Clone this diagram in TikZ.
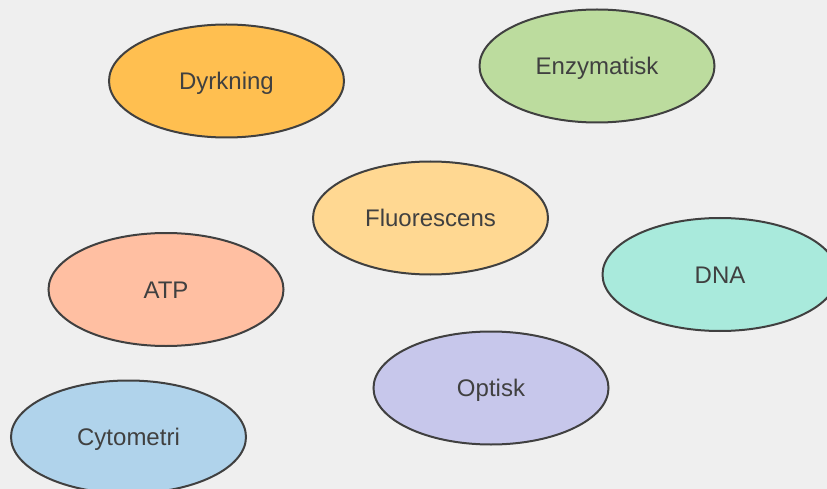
\documentclass[tikz,border=0pt]{standalone}
\usepackage{fontspec}
\setmainfont{Liberation Sans}
\usetikzlibrary{shapes.geometric}
\definecolor{bg}{HTML}{EFEFEF}
\definecolor{ink}{HTML}{404040}
\definecolor{cDyr}{HTML}{FFBF50}
\definecolor{cEnz}{HTML}{BCDC9E}
\definecolor{cFlu}{HTML}{FFD892}
\definecolor{cAtp}{HTML}{FFBFA2}
\definecolor{cDna}{HTML}{A9EADC}
\definecolor{cOpt}{HTML}{C7C7EB}
\definecolor{cCyt}{HTML}{B0D3EB}
\tikzset{
  blob/.style={ellipse, draw=ink, line width=2pt, minimum width=235pt, minimum height=113pt,
    inner sep=0pt, text=ink, font=\fontsize{24}{28}\selectfont,
    text height=17pt, text depth=0pt}
}
\begin{document}
\begin{tikzpicture}[x=1pt,y=-1pt]
\fill[bg] (0,0) rectangle (827,489);
\useasboundingbox (0,0) rectangle (827,489);
\begin{scope}
\clip (0,0) rectangle (827,489);
\node[blob, fill=cDyr] (dyr) at (226.5,81) {Dyrkning};
\node[blob, fill=cEnz] (enz) at (597,66) {Enzymatisk};
\node[blob, fill=cFlu] (flu) at (430.5,218) {Fluorescens};
\node[blob, fill=cAtp] (atp) at (166,289.5) {ATP};
\node[blob, fill=cDna] (dna) at (720,274.5) {DNA};
\node[blob, fill=cOpt] (opt) at (491,388) {Optisk};
\node[blob, fill=cCyt] (cyt) at (128.5,437) {Cytometri};
\end{scope}
\end{tikzpicture}
\end{document}
